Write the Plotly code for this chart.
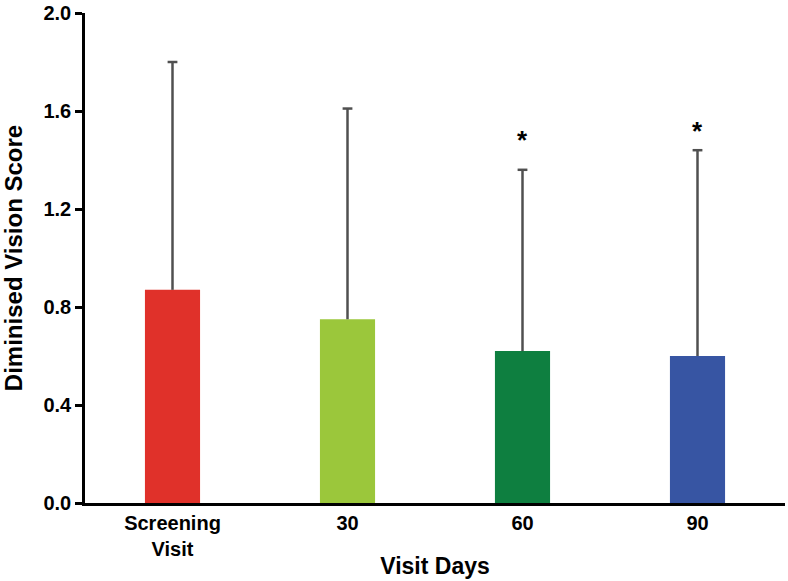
import plotly.graph_objects as go

categories = ["Screening<br>Visit", "30", "60", "90"]
means = [0.87, 0.75, 0.62, 0.60]
upper_err = [0.93, 0.86, 0.74, 0.84]
colors = ["#E0312A", "#9BC73B", "#0E7F40", "#3755A3"]
significant = ["", "", "*", "*"]
star_y = [None, None, 1.48, 1.52]

err_top = [m + e for m, e in zip(means, upper_err)]

fig = go.Figure()
fig.add_trace(go.Bar(
    x=categories, y=means,
    marker=dict(color=colors, line=dict(width=0)),
    width=0.315,
    error_y=dict(type="data", array=upper_err, arrayminus=[0]*len(means),
                 symmetric=False, color="#505050", thickness=2.5, width=0),
    showlegend=False,
))
# caps only at the upper end of the error bars
fig.add_trace(go.Scatter(
    x=categories, y=err_top, mode="markers",
    marker=dict(symbol="line-ew", size=7, line=dict(color="#505050", width=2.5)),
    showlegend=False, hoverinfo="skip",
))

for i, (sy, s) in enumerate(zip(star_y, significant)):
    if s:
        fig.add_annotation(x=i, y=sy, text="<b>" + s + "</b>", showarrow=False,
                           yanchor="middle",
                           font=dict(family="Liberation Sans", size=26, color="black"))

fig.update_layout(
    width=788, height=581,
    margin=dict(l=85, r=3, t=13, b=78, autoexpand=False),
    paper_bgcolor="white", plot_bgcolor="white",
    font=dict(family="Liberation Sans", color="black"),
)
fig.update_xaxes(
    range=[-0.5, 3.5], showline=True, linecolor="black", linewidth=2.5,
    ticks="", showgrid=False, zeroline=False, automargin=False,
    tickfont=dict(size=20, family="Liberation Sans", weight="bold"),
    title=dict(text="<b>Visit Days</b>", font=dict(size=23), standoff=0),
)
fig.update_yaxes(
    range=[0, 2.0], tickvals=[0, 0.4, 0.8, 1.2, 1.6, 2.0],
    ticktext=["0.0", "0.4", "0.8", "1.2", "1.6", "2.0"],
    showline=True, linecolor="black", linewidth=2.5,
    ticks="outside", ticklen=7, tickwidth=2.5, tickcolor="black",
    showgrid=False, zeroline=False, ticklabelstandoff=0, automargin=False,
    tickfont=dict(size=20, family="Liberation Sans", weight="bold"),
    title=dict(text="<b>Diminised Vision Score</b>", font=dict(size=24), standoff=15),
)

fig.write_html(
    "out.html",
    config={"displayModeBar": False},
    post_script="document.body.style.margin='0';document.body.style.padding='0';",
)
